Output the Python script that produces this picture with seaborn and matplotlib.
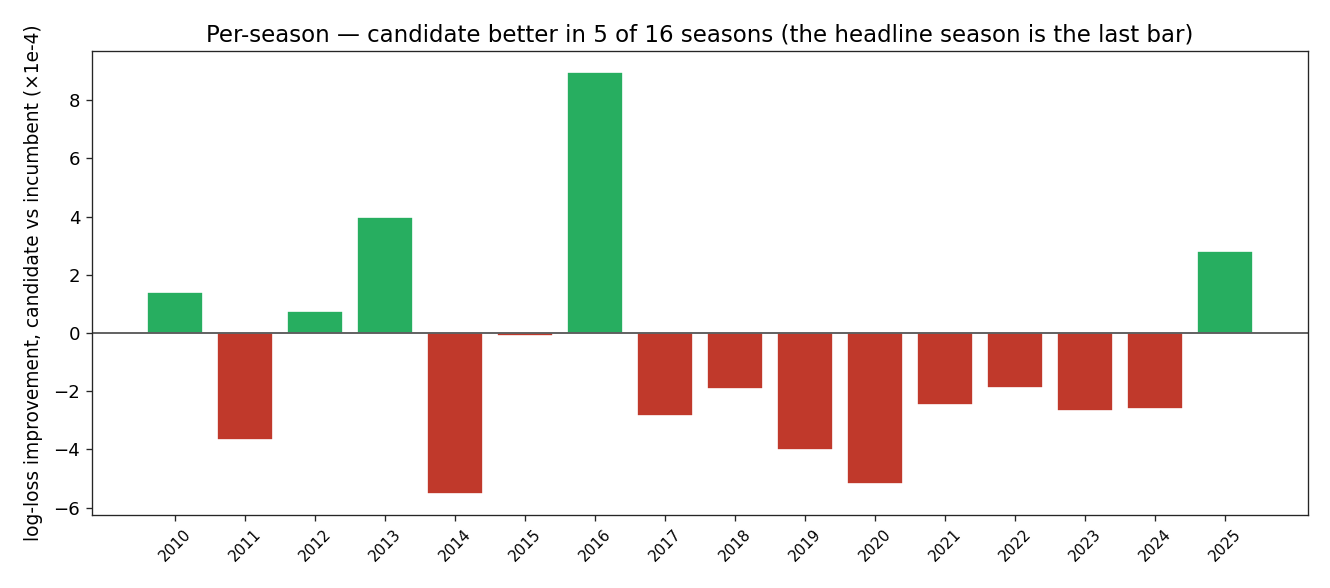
import matplotlib
matplotlib.use("Agg")
import matplotlib.pyplot as plt
import seaborn as sns
import pandas as pd

seasons = ["2010", "2011", "2012", "2013", "2014", "2015", "2016", "2017",
           "2018", "2019", "2020", "2021", "2022", "2023", "2024", "2025"]
improvement = [1.41, -3.68, 0.76, 3.99, -5.53, -0.09, 8.97, -2.85,
               -1.92, -4.02, -5.19, -2.47, -1.89, -2.68, -2.61, 2.82]

sns.set_style("ticks")
plt.rcParams["font.family"] = ["DejaVu Sans"]
plt.rcParams["text.color"] = "black"
plt.rcParams["axes.labelcolor"] = "black"
plt.rcParams["xtick.labelcolor"] = "black"
plt.rcParams["ytick.labelcolor"] = "black"

df = pd.DataFrame({"season": seasons, "value": improvement})
df["better"] = ["yes" if v > 0 else "no" for v in improvement]

fig = plt.figure(figsize=(1330 / 120, 588 / 120), dpi=120)
ax = fig.add_axes([92 / 1330, 1 - 515 / 588, (1308 - 92) / 1330, (515 - 51) / 588])

sns.barplot(data=df, x="season", y="value", hue="better",
            palette={"yes": "#27ae60", "no": "#c0392b"},
            dodge=False, legend=False, width=0.8, saturation=1, ax=ax)
ax.axhline(0, color="#333333", linewidth=0.9)
ax.set_xlabel("")
ax.set_ylabel("log-loss improvement, candidate vs incumbent (×1e-4)", fontsize=11.2, labelpad=6)
ax.set_title("Per-season — candidate better in 5 of 16 seasons (the headline season is the last bar)",
             fontsize=13.7, color="black")
ax.tick_params(axis="x", labelsize=9, rotation=45)
ax.tick_params(axis="y", labelsize=10.9)
ax.margins(x=0.05)
ax.autoscale_view()

fig.savefig("out.png", dpi=120)
